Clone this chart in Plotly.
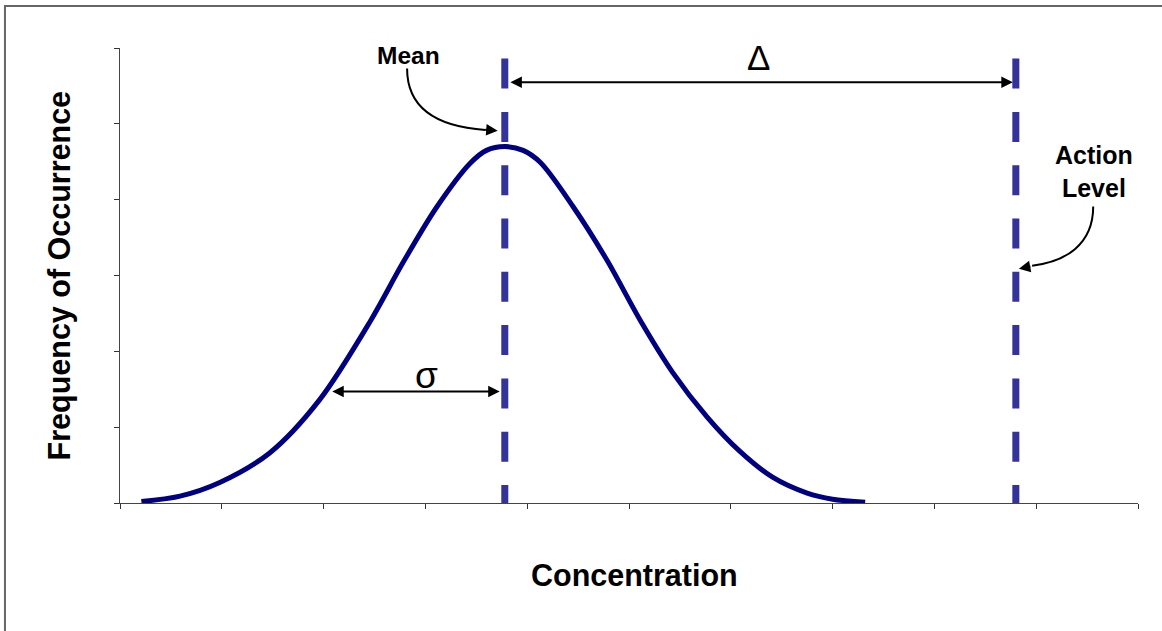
import plotly.graph_objects as go

# ---------------------------------------------------------------------------
# Data (axis units: x 0..10, y 0..6)
# ---------------------------------------------------------------------------
CURVE_X = [0.21, 0.59, 0.98, 1.47, 1.96, 2.46, 2.78, 3.11, 3.44, 3.60, 3.78,
           3.96, 4.13, 4.45, 4.78, 5.11, 5.43, 5.77, 6.09, 6.41, 6.75, 7.00, 7.32]
CURVE_Y = [0.02, 0.09, 0.27, 0.66, 1.36, 2.40, 3.17, 3.90, 4.48, 4.65, 4.70,
           4.65, 4.49, 3.91, 3.21, 2.41, 1.72, 1.13, 0.68, 0.34, 0.13, 0.05, 0.01]

MEAN_X = 3.78
ACTION_X = 8.80
LINE_TOP = 5.86

X_RANGE = [0, 10]
Y_RANGE = [0, 6]

FONT = "Liberation Sans, Arial, sans-serif"
DASH_COLOR = "#333399"
CURVE_COLOR = "#000080"

fig = go.Figure()

# dashed mean / action level lines
for xv in (MEAN_X, ACTION_X):
    fig.add_trace(go.Scatter(
        x=[xv, xv], y=[LINE_TOP, 0],
        mode="lines",
        line=dict(color=DASH_COLOR, width=7, dash="30px,23.3px"),
        hoverinfo="skip", showlegend=False,
    ))

# distribution curve
fig.add_trace(go.Scatter(
    x=CURVE_X, y=CURVE_Y,
    mode="lines",
    line=dict(color=CURVE_COLOR, width=5, shape="spline", smoothing=0.9),
    hoverinfo="skip", showlegend=False,
))

arrow = dict(text="", showarrow=True, arrowcolor="black", arrowwidth=2,
             arrowhead=2, arrowsize=1.15, startarrowhead=2, startarrowsize=1.15)

annotations = [
    # delta double arrow
    dict(x=ACTION_X - 0.03, y=5.55, ax=MEAN_X + 0.04, ay=5.55,
         axref="x", ayref="y", arrowside="end+start", **arrow),
    # sigma double arrow
    dict(x=MEAN_X - 0.05, y=1.47, ax=2.07, ay=1.47,
         axref="x", ayref="y", arrowside="end+start", **arrow),
    # heads of the curved pointers
    dict(x=3.71, y=4.91, ax=-14, ay=-1, **arrow),
    dict(x=8.83, y=3.09, ax=13, ay=-2.5, **arrow),
    # labels
    dict(x=6.27, y=5.87, text="Δ", showarrow=False,
         font=dict(family=FONT, size=35, color="black")),
    dict(x=3.01, y=1.68, text="σ", showarrow=False,
         font=dict(family=FONT, size=37, color="black")),
    dict(x=2.83, y=5.90, text="Mean", showarrow=False,
         font=dict(family=FONT, size=24.5, color="black", weight="bold")),
    dict(x=9.57, y=4.37, text="Action<br>Level", showarrow=False,
         font=dict(family=FONT, size=25, color="black", weight="bold")),
    # axis titles
    dict(xref="paper", yref="paper", x=0.505, y=-0.158,
         xanchor="center", yanchor="middle",
         text="Concentration", showarrow=False,
         font=dict(family=FONT, size=30.5, color="black", weight="bold")),
    dict(xref="paper", yref="paper", x=-0.059, y=0.5, textangle=-90,
         xanchor="center", yanchor="middle",
         text="Frequency of Occurrence", showarrow=False,
         font=dict(family=FONT, size=30.5, color="black", weight="bold")),
]

shapes = [
    # curved pointer for Mean
    dict(type="path", xref="x", yref="y",
         path="M 2.82,5.73 Q 2.82,4.99 3.59,4.92",
         line=dict(color="black", width=2)),
    # curved pointer for Action Level
    dict(type="path", xref="x", yref="y",
         path="M 9.56,3.91 C 9.56,3.40 9.28,3.18 8.96,3.13",
         line=dict(color="black", width=2)),
    # outer frame
    dict(type="rect", xref="paper", yref="paper",
         x0=-0.113, x1=2, y0=-2, y1=1.0923,
         line=dict(color="#666666", width=2), layer="below"),
]

fig.update_layout(
    width=1162, height=631,
    margin=dict(l=120, r=24, t=48, b=128),
    paper_bgcolor="white", plot_bgcolor="white",
    showlegend=False,
    annotations=annotations,
    shapes=shapes,
    xaxis=dict(range=X_RANGE, dtick=1, tick0=0, showgrid=False, zeroline=False,
               showline=True, linecolor="#444444", linewidth=1,
               ticks="outside", ticklen=5, tickcolor="#333333",
               showticklabels=False, fixedrange=True),
    yaxis=dict(range=Y_RANGE, dtick=1, tick0=0, showgrid=False, zeroline=False,
               showline=True, linecolor="#444444", linewidth=1,
               ticks="outside", ticklen=5, tickcolor="#333333",
               showticklabels=False, fixedrange=True),
)

# drop the default 8px page margin so the figure sits at the window corner
fig.write_html("out.html", config={"displayModeBar": False},
               post_script="document.body.style.margin='0';")
